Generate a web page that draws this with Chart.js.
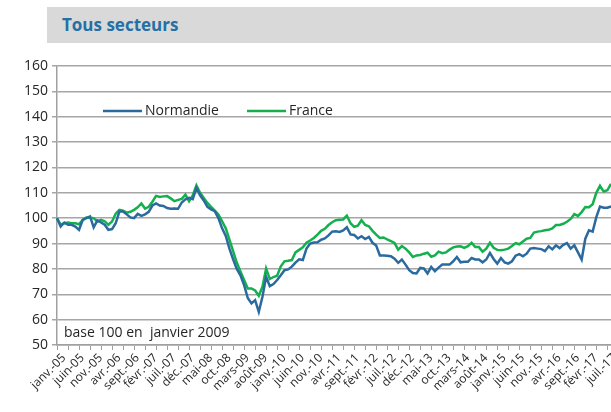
<!DOCTYPE html>
<html>
<head>
<meta charset="utf-8">
<script src="https://cdn.jsdelivr.net/npm/chart.js@4.4.0/dist/chart.umd.min.js"></script>
<style>
  body { margin: 0; overflow: hidden; background: #fff; width: 611px; height: 412px; }
  #titre { position: absolute; left: 47px; top: 7px; width: 600px; height: 36px; background: #d9d9d9;
           font: bold 17px "Open Sans", sans-serif; color: #2470a6; line-height: 36px; padding-left: 15px; box-sizing: border-box; }
  #wrap { position: absolute; left: 0; top: 0; width: 625px; height: 412px; }
</style>
</head>
<body>
<div id="titre">Tous secteurs</div>
<div id="wrap"><canvas id="myChart" width="625" height="412"></canvas></div>
<script>
const mois = ["janv.", "févr.", "mars", "avr.", "mai", "juin", "juil.", "août", "sept.", "oct.", "nov.", "déc."]
const labels = []
for (let a = 5; a <= 17; a++) {
    for (let m = 0; m < 12; m++) {
        if (a == 17 && m > 7) break
        labels.push(mois[m] + "-" + (a < 10 ? "0" + a : a))
    }
}

const normandie = [
    100, 96.7, 98.3, 97.4, 97.4, 96.7, 95.4, 99.3, 100, 100.7, 96.4, 99.1,
    98.3, 97.4, 95.4, 95.7, 98, 102.6, 102.6, 101.5, 100.3, 100, 101.7, 100.9,
    101.5, 102.5, 105, 105.8, 105, 104.8, 104, 103.7, 103.8, 103.7, 106.2, 107.4,
    108, 107.5, 112, 109, 107, 104.5, 103.5, 102.8, 100, 96, 93, 88,
    83.8, 80, 77.5, 73.6, 68.5, 66.4, 67.7, 63.1, 69, 76.9, 73.2, 74,
    75.6, 77.5, 79.5, 79.8, 80.9, 82.5, 83.8, 83.5, 88, 90, 90.4, 90.5,
    91.5, 92, 93.2, 94.7, 94.8, 94.6, 95.2, 96.4, 93.6, 93.4, 92, 92.9,
    91.8, 92.6, 90.3, 89.2, 85.3, 85.3, 85.2, 85, 84, 82.4, 83.7, 81.7,
    79.5, 78.4, 78.2, 80.4, 80.2, 78.2, 80.8, 79.1, 80.5, 81.7, 81.7, 81.7,
    83, 84.7, 82.6, 82.8, 82.8, 84.3, 83.7, 83.7, 82.6, 83.7, 86.3, 83.9,
    82.1, 84.3, 82.6, 82.1, 83, 85.2, 85.8, 85, 86, 88, 88.2, 88,
    87.8, 87, 88.9, 87.7, 89.3, 88.2, 89.5, 90.2, 88, 89.3, 86.5, 83.7,
    91.9, 95.2, 94.7, 100.4, 104.6, 104.1, 104.1, 104.6
]

const france = [
    100, 97.4, 98, 98.3, 98, 98, 97.6, 99.3, 100.3, 100.2, 100, 98.7,
    99.3, 98.8, 97.4, 98.7, 101.8, 103.3, 103, 102.2, 102.5, 103.3, 104.3, 105.8,
    103.8, 104.5, 106.5, 108.8, 108.4, 108.6, 108.7, 107.8, 106.7, 107.2, 107.6, 109.3,
    106.7, 109, 112.9, 110, 108, 106, 104.5, 103, 101.5, 98.8, 96, 91.5,
    87, 82.5, 79, 75.6, 72.3, 72.3, 71.5, 69.4, 73, 80.2, 76, 76.8,
    77.3, 81, 83, 83.2, 83.5, 86.5, 87.5, 88.5, 90.3, 91.2, 92.2, 93.5,
    95, 95.8, 97.3, 98.4, 99.2, 99.4, 99.5, 101, 98, 96.6, 97, 99.2,
    97.3, 96.8, 95, 93.5, 92.2, 92.4, 91.6, 91, 90.2, 87.6, 89, 88,
    86.5, 84.7, 85.3, 85.5, 86, 86.4, 84.8, 85.3, 86.8, 86.2, 86.5, 87.6,
    88.5, 88.8, 88.9, 88.3, 89, 90.3, 88.6, 88.6, 86.8, 88, 90.3, 88.3,
    87.5, 87.4, 87.6, 88, 89, 90.2, 89.7, 90.8, 91.9, 92.2, 94.3, 94.7,
    94.9, 95.2, 95.4, 96, 97.3, 97.3, 97.8, 98.6, 99.7, 101.6, 100.9, 102.4,
    104.4, 104.3, 105.5, 110, 112.8, 110.5, 111, 113.5
]

const series = ["Normandie", "France"]
const couleurs = {Normandie: "#2a6a9e", France: "#14b04e"}
const note = "base 100 en  janvier 2009"

const legendeNote = {
    id: "legendeNote",
    afterDraw(chart) {
        const ctx = chart.ctx
        const a = chart.chartArea
        ctx.save()
        ctx.font = '14px "Open Sans", sans-serif'
        ctx.fillStyle = "#262626"
        ctx.textBaseline = "middle"
        const pos = [46, 190]
        series.forEach((s, k) => {
            const x = a.left + pos[k], y = a.top + 45
            ctx.strokeStyle = couleurs[s]
            ctx.lineWidth = 2.5
            ctx.beginPath()
            ctx.moveTo(x, y)
            ctx.lineTo(x + 39, y)
            ctx.stroke()
            ctx.fillText(s, x + 42, y)
        })
        ctx.fillText(note, a.left + 7, a.bottom - 12)
        ctx.restore()
    }
}

const ctx = document.getElementById("myChart").getContext("2d")
const myChart = new Chart(ctx, {
    type: "line",
    data: {
        labels: labels,
        datasets: [
            {label: "Normandie", data: normandie, borderColor: couleurs.Normandie, backgroundColor: couleurs.Normandie},
            {label: "France", data: france, borderColor: couleurs.France, backgroundColor: couleurs.France}
        ]
    },
    options: {
        responsive: false,
        animation: false,
        devicePixelRatio: 1,
        layout: {padding: {left: 5, top: 66, right: 14, bottom: 0}},
        elements: {
            point: {radius: 0},
            line: {borderWidth: 2.5, tension: 0}
        },
        plugins: {legend: {display: false}, tooltip: {enabled: false}},
        scales: {
            x: {
                offset: false,
                afterFit: (s) => { s.height = 67 },
                grid: {
                    drawOnChartArea: false,
                    tickLength: 5,
                    lineWidth: 1,
                    color: (c) => c.index % 3 == 0 ? "#a0a0a0" : "rgba(0,0,0,0)"
                },
                border: {color: "#a0a0a0", width: 1.5},
                ticks: {
                    autoSkip: false,
                    minRotation: 45,
                    maxRotation: 45,
                    padding: 1,
                    labelOffset: 7,
                    color: "#262626",
                    font: {family: "Open Sans", size: 12},
                    callback: function (v, i) { return i % 5 == 0 ? labels[i] : "" }
                }
            },
            y: {
                min: 50,
                max: 160,
                afterFit: (s) => { s.width = 52 },
                grid: {color: "#a6a6a6", lineWidth: 1.5, tickLength: 5},
                border: {color: "#a0a0a0", width: 1.5},
                ticks: {
                    stepSize: 10,
                    padding: 4,
                    color: "#262626",
                    font: {family: "Open Sans", size: 14}
                }
            }
        }
    },
    plugins: [legendeNote]
})
</script>
</body>
</html>
